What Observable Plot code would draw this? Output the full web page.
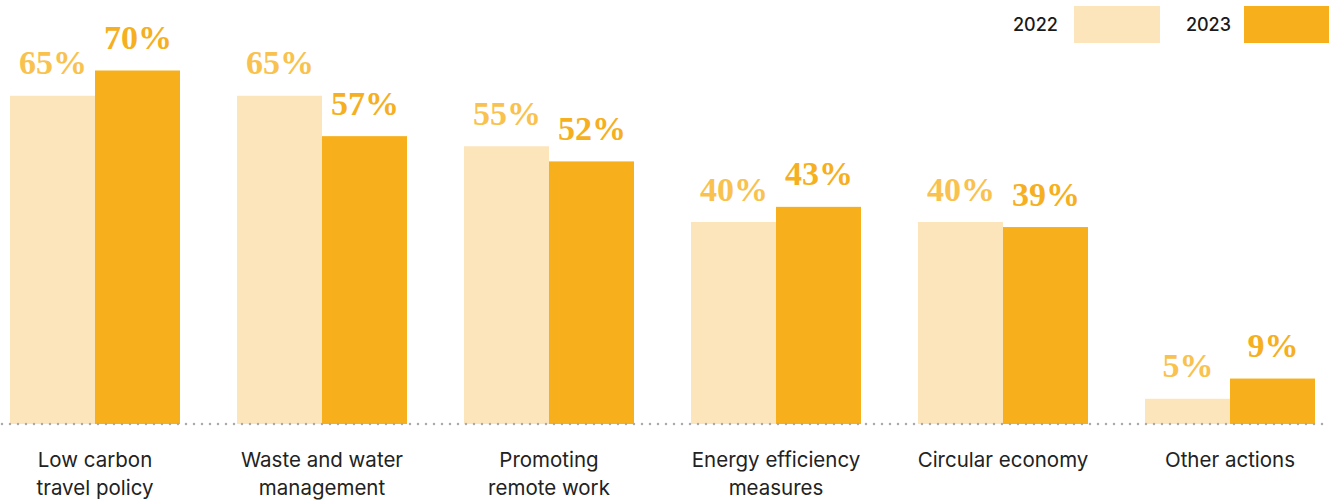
<!DOCTYPE html>
<html>
<head>
<meta charset="utf-8">
<script src="https://cdn.jsdelivr.net/npm/d3@7"></script>
<script src="https://cdn.jsdelivr.net/npm/@observablehq/plot@0.6"></script>
<style>
  html, body { margin: 0; padding: 0; background: #fff; }
  #wrap { position: relative; width: 1329px; height: 502px; overflow: hidden; }
  #legend { position: absolute; top: 6px; left: 1013px; display: flex; align-items: center;
            font-family: Inter, sans-serif; font-size: 18px; font-weight: 500; color: #1a1a1a; }
  #legend .sw { display: inline-block; height: 37px; }
</style>
</head>
<body>
<div id="wrap">
  <div id="legend">
    <span>2022</span><span class="sw" style="width:86px;background:#FDE5BB;margin-left:16px"></span>
    <span style="margin-left:26px">2023</span><span class="sw" style="width:86px;background:#F7B01B;margin-left:13px"></span>
  </div>
</div>
<script>
const categories = ["Low carbon travel policy", "Waste and water management", "Promoting remote work", "Energy efficiency measures", "Circular economy", "Other actions"];
const tickLabels = ["Low carbon\ntravel policy", "Waste and water\nmanagement", "Promoting\nremote work", "Energy efficiency\nmeasures", "Circular economy", "Other actions"];
const years = ["2022", "2023"];
const values2022 = [65, 65, 55, 40, 40, 5];
const values2023 = [70, 57, 52, 43, 39, 9];

const data = categories.flatMap((c, i) => [
  {category: c, year: "2022", value: values2022[i]},
  {category: c, year: "2023", value: values2023[i]}
]);

const labelFont = {fontFamily: "'Liberation Serif', serif", fontSize: 34, fontWeight: "bold"};

const chart = Plot.plot({
  width: 1329,
  height: 502,
  marginLeft: 8,
  marginRight: 13,
  marginTop: 20,
  marginBottom: 78,
  style: {fontFamily: "Inter, sans-serif", color: "#222", background: "transparent", overflow: "visible"},
  fx: {domain: categories, paddingInner: 0.246, paddingOuter: 0, label: null},
  x: {domain: years, padding: 0, axis: null},
  y: {domain: [0, 80], axis: null},
  color: {domain: years, range: ["#FDE5BB", "#F7B01B"]},
  marks: [
    Plot.barY(data, {fx: "category", x: "year", y: "value", fill: "year"}),
    Plot.text(data.filter(d => d.year === "2022"), {fx: "category", x: "year", y: "value", text: d => d.value + "%", dy: -22, lineAnchor: "bottom", fill: "#F9C24F", ...labelFont}),
    Plot.text(data.filter(d => d.year === "2023"), {fx: "category", x: "year", y: "value", text: d => d.value + "%", dy: -22, lineAnchor: "bottom", fill: "#F5AF1F", ...labelFont}),
    Plot.axisFx({anchor: "bottom", tickSize: 0, tickPadding: 22, fontSize: 20.5, lineHeight: 1.38, label: null,
      tickFormat: c => tickLabels[categories.indexOf(c)]})
  ]
});
// dotted baseline across the full width, positioned by the plot's own y scale
const y0 = chart.scale("y").apply(0);
d3.select(chart).append("line")
  .attr("x1", 2).attr("x2", 1329).attr("y1", y0).attr("y2", y0)
  .attr("stroke", "#aaa").attr("stroke-width", 2.5)
  .attr("stroke-dasharray", "0,8").attr("stroke-linecap", "round");
document.getElementById("wrap").prepend(chart);
chart.style.position = "absolute";
chart.style.left = "0";
chart.style.top = "0";
</script>
</body>
</html>
